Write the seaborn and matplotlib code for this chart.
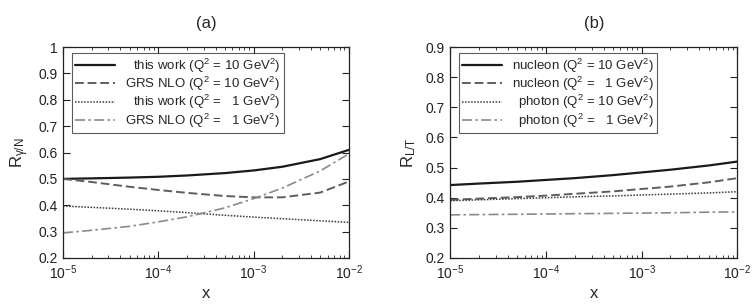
import pandas as pd
import seaborn as sns
import matplotlib.pyplot as plt
from matplotlib.ticker import FuncFormatter, LogLocator, MultipleLocator

# x grid (log scale)
x_vals = [1e-5, 2e-5, 5e-5, 1e-4, 2e-4, 5e-4, 1e-3, 2e-3, 5e-3, 1e-2]

# panel (a): R_gamma/N
a_labels = ['this work (Q$^2$ = 10 GeV$^2$)',
            'GRS NLO (Q$^2$ = 10 GeV$^2$)',
            'this work (Q$^2$ =   1 GeV$^2$)',
            'GRS NLO (Q$^2$ =   1 GeV$^2$)']
a_this10 = [0.500, 0.502, 0.505, 0.508, 0.513, 0.522, 0.532, 0.546, 0.575, 0.610]
a_grs10 = [0.500, 0.488, 0.470, 0.458, 0.447, 0.435, 0.430, 0.430, 0.448, 0.490]
a_this1 = [0.397, 0.392, 0.385, 0.379, 0.372, 0.362, 0.355, 0.349, 0.341, 0.335]
a_grs1 = [0.295, 0.305, 0.320, 0.337, 0.356, 0.390, 0.425, 0.465, 0.530, 0.595]

# panel (b): R_L/T
b_labels = ['nucleon (Q$^2$ = 10 GeV$^2$)',
            'nucleon (Q$^2$ =   1 GeV$^2$)',
            'photon (Q$^2$ = 10 GeV$^2$)',
            'photon (Q$^2$ =   1 GeV$^2$)']
b_nuc10 = [0.442, 0.447, 0.453, 0.459, 0.465, 0.475, 0.484, 0.493, 0.507, 0.520]
b_nuc1 = [0.393, 0.397, 0.402, 0.407, 0.413, 0.421, 0.429, 0.437, 0.451, 0.465]
b_pho10 = [0.390, 0.393, 0.397, 0.400, 0.403, 0.406, 0.409, 0.412, 0.416, 0.420]
b_pho1 = [0.343, 0.344, 0.345, 0.346, 0.347, 0.348, 0.349, 0.350, 0.352, 0.353]

colors = ['#1a1a1a', '#5e5e5e', '#3a3a3a', '#8a8a8a']
dash_list = ['', (4.5, 2), (1, 1), (6, 2, 1.5, 2)]
widths = [1.6, 1.4, 1.1, 1.2]


def long_df(labels, series):
    rows = []
    for lab, ys in zip(labels, series):
        for x, y in zip(x_vals, ys):
            rows.append({'x': x, 'y': y, 'series': lab})
    return pd.DataFrame(rows)


sns.set_style('ticks')
plt.rcParams['font.family'] = ['Liberation Sans', 'DejaVu Sans']
plt.rcParams['mathtext.fontset'] = 'custom'
plt.rcParams['mathtext.rm'] = 'Liberation Sans'
plt.rcParams['mathtext.it'] = 'Liberation Sans:italic'
plt.rcParams['mathtext.default'] = 'regular'

fig = plt.figure(figsize=(7.54, 3.06), dpi=100)
ax_a = fig.add_axes([0.0836, 0.157, 0.379, 0.689])
ax_b = fig.add_axes([0.597, 0.157, 0.381, 0.689])

panels = [
    (ax_a, a_labels, [a_this10, a_grs10, a_this1, a_grs1], (0.2, 1.0), r'R$_{\gamma/N}$', '(a)'),
    (ax_b, b_labels, [b_nuc10, b_nuc1, b_pho10, b_pho1], (0.2, 0.9), r'R$_{L/T}$', '(b)'),
]

for ax, labels, series, ylim, ylab, title in panels:
    df = long_df(labels, series)
    sns.lineplot(data=df, x='x', y='y', hue='series', style='series',
                 hue_order=labels, style_order=labels,
                 palette=dict(zip(labels, colors)),
                 dashes=dict(zip(labels, dash_list)),
                 legend=False, ax=ax)
    lines = ax.get_lines()
    for ln, w in zip(lines, widths):
        ln.set_linewidth(w)
    ax.set_xscale('log')
    ax.set_xlim(1e-5, 1e-2)
    ax.set_ylim(*ylim)
    ax.yaxis.set_major_locator(MultipleLocator(0.1))
    ax.yaxis.set_major_formatter(FuncFormatter(lambda v, p: '{:g}'.format(round(v, 2))))
    ax.xaxis.set_major_locator(LogLocator(base=10, numticks=10))
    ax.xaxis.set_minor_locator(LogLocator(base=10, subs=range(2, 10), numticks=20))
    ax.tick_params(which='both', direction='in', top=True, right=True,
                   labelsize=10, colors='#222222')
    ax.tick_params(which='major', length=5, width=0.8, pad=4)
    ax.tick_params(which='minor', length=2.5, width=0.6)
    ax.tick_params(axis='y', which='minor', length=0)
    for sp in ax.spines.values():
        sp.set_linewidth(0.9)
        sp.set_color('#222222')
    ax.set_xlabel('x', fontsize=12, labelpad=3)
    ax.set_ylabel(ylab, fontsize=12, labelpad=5)
    ax.set_title(title, fontsize=12, pad=14)

    leg = ax.legend(lines[:4], labels, loc='upper left', bbox_to_anchor=(0.031, 0.972),
                    borderaxespad=0, frameon=True, fancybox=False, fontsize=9.5,
                    handlelength=3.0, handletextpad=0.8, labelspacing=0.02,
                    borderpad=0.25, edgecolor='#333333')
    leg.get_frame().set_linewidth(0.8)

# right-align legend texts like gnuplot
fig.canvas.draw()
renderer = fig.canvas.get_renderer()
for ax in (ax_a, ax_b):
    leg = ax.get_legend()
    texts = leg.get_texts()
    ws = [t.get_window_extent(renderer).width for t in texts]
    wmax = max(ws)
    col = leg._legend_handle_box.get_children()[0]
    for item, w in zip(col.get_children(), ws):
        item.sep = item.sep + (wmax - w) * 72.0 / fig.dpi

fig.savefig('out.png', dpi=100)
